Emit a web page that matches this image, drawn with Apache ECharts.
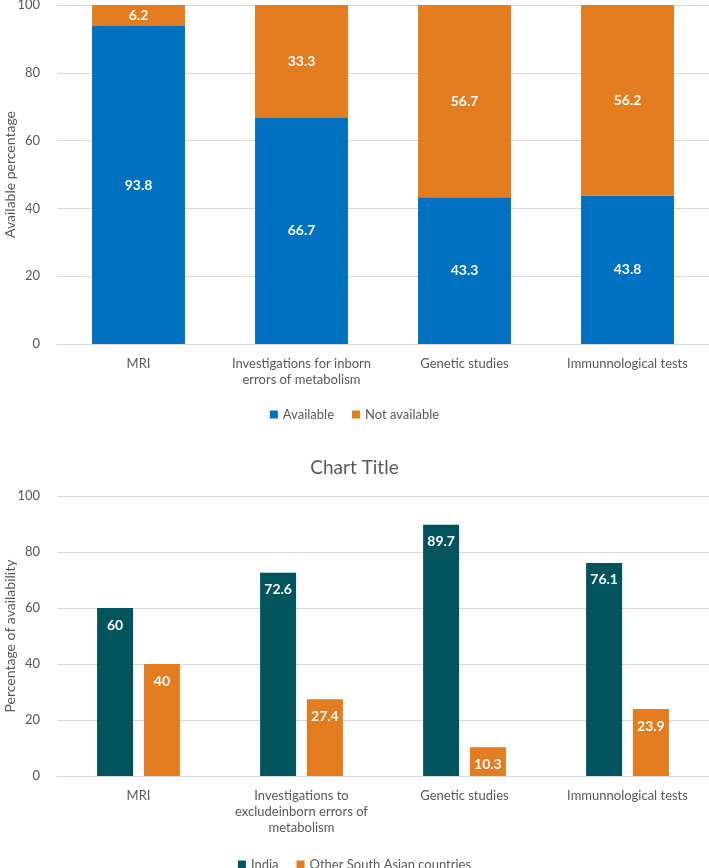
<!DOCTYPE html>
<html>
<head>
<meta charset="utf-8">
<script src="https://cdn.jsdelivr.net/npm/echarts@6/dist/echarts.min.js"></script>
<style>
html,body{margin:0;padding:0;background:#fff;}
#main{width:709px;height:868px;}
</style>
</head>
<body>
<div id="main"></div>
<script>
// 上图：检查项目可用率（堆叠）
var topCategories = ['MRI', 'Investigations for inborn\nerrors of metabolism', 'Genetic studies', 'Immunnological tests'];
var availableData = [93.8, 66.7, 43.3, 43.8];
var notAvailableData = [6.2, 33.3, 56.7, 56.2];
// 下图：印度 vs 其他南亚国家
var bottomCategories = ['MRI', 'Investigations to\nexcludeinborn errors of\nmetabolism', 'Genetic studies', 'Immunnological tests'];
var indiaData = [60, 72.6, 89.7, 76.1];
var otherData = [40, 27.4, 10.3, 23.9];
var yTicks = [0, 20, 40, 60, 80, 100];

var FONT = '"Liberation Sans Narrow", Lato, sans-serif';
var GREY = '#595959';
var GRIDC = '#d9d9d9';

var myChart = echarts.init(document.getElementById('main'));

function xAxisOf(idx, cats){
    return {
        type: 'category', gridIndex: idx, data: cats,
        axisLine: {lineStyle: {color: GRIDC}},
        axisTick: {show: false},
        axisLabel: {color: GREY, fontFamily: FONT, fontSize: 13, lineHeight: 16, margin: 12, interval: 0}
    };
}
function yAxisOf(idx, name, gap){
    return {
        type: 'value', gridIndex: idx, min: yTicks[0], max: yTicks[yTicks.length - 1], interval: 20,
        name: name, nameLocation: 'middle', nameGap: gap, nameRotate: 90, nameMoveOverlap: false,
        nameTextStyle: {color: GREY, fontFamily: FONT, fontSize: 14},
        axisLine: {show: false}, axisTick: {show: false},
        axisLabel: {color: GREY, fontFamily: FONT, fontSize: 13, margin: 17},
        splitLine: {lineStyle: {color: GRIDC}}
    };
}
var whiteLabel = {show: true, color: '#fff', fontFamily: FONT, fontWeight: 'bold', fontSize: 14};

var option = {
    animation: false,
    title: {
        text: 'Chart Title', left: 'center', top: 453,
        textStyle: {color: GREY, fontFamily: FONT, fontSize: 19, fontWeight: 'normal'}
    },
    legend: [{
        data: ['Available', 'Not available'], top: 403, left: 'center',
        icon: 'rect', itemWidth: 8, itemHeight: 8, itemGap: 18,
        textStyle: {color: GREY, fontFamily: FONT, fontSize: 13}
    }, {
        data: ['India', 'Other South Asian countries'], top: 853, left: 'center',
        icon: 'rect', itemWidth: 8, itemHeight: 8, itemGap: 18,
        textStyle: {color: GREY, fontFamily: FONT, fontSize: 13}
    }],
    grid: [
        {left: 57, right: 0, top: 5, height: 339, outerBoundsMode: 'none'},
        {left: 57, right: 0, top: 496, height: 280, outerBoundsMode: 'none'}
    ],
    xAxis: [xAxisOf(0, topCategories), xAxisOf(1, bottomCategories)],
    yAxis: [yAxisOf(0, 'Available percentage', 40), yAxisOf(1, 'Percentage of availability', 40)],
    series: [{
        name: 'Available', type: 'bar', stack: 'a', xAxisIndex: 0, yAxisIndex: 0,
        data: availableData, barWidth: '57%',
        itemStyle: {color: '#0070C0'},
        label: Object.assign({position: 'inside'}, whiteLabel)
    }, {
        name: 'Not available', type: 'bar', stack: 'a', xAxisIndex: 0, yAxisIndex: 0,
        data: notAvailableData, barWidth: '57%',
        itemStyle: {color: '#E47C20'},
        label: Object.assign({position: 'inside'}, whiteLabel)
    }, {
        name: 'India', type: 'bar', xAxisIndex: 1, yAxisIndex: 1,
        data: indiaData, barWidth: 36, barGap: '30%',
        itemStyle: {color: '#02545C'},
        label: Object.assign({position: 'insideTop', distance: 10}, whiteLabel)
    }, {
        name: 'Other South Asian countries', type: 'bar', xAxisIndex: 1, yAxisIndex: 1,
        data: otherData, barWidth: 36, barGap: '30%',
        itemStyle: {color: '#E47C20'},
        label: Object.assign({position: 'insideTop', distance: 10}, whiteLabel)
    }]
};
myChart.setOption(option);
</script>
</body>
</html>
